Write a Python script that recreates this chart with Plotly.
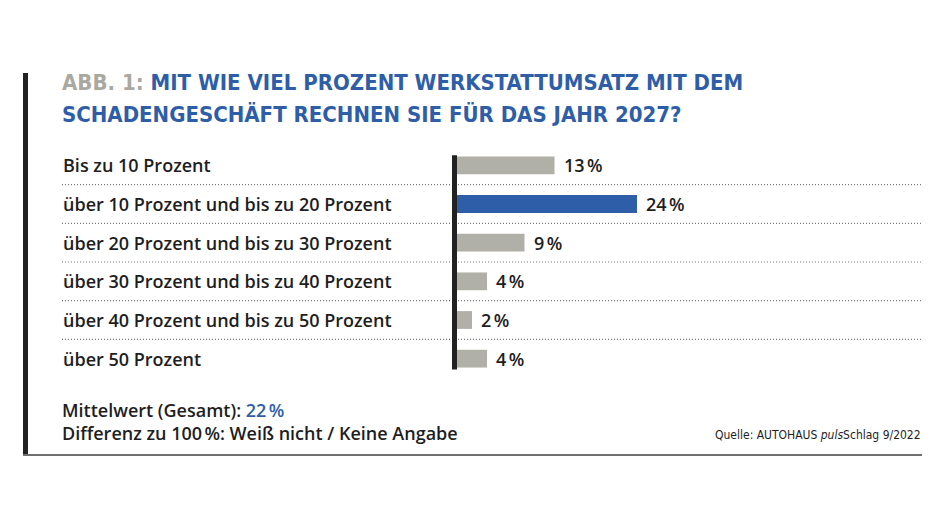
import plotly.graph_objects as go

categories = [
    "Bis zu 10 Prozent",
    "über 10 Prozent und bis zu 20 Prozent",
    "über 20 Prozent und bis zu 30 Prozent",
    "über 30 Prozent und bis zu 40 Prozent",
    "über 40 Prozent und bis zu 50 Prozent",
    "über 50 Prozent",
]
values = [13, 24, 9, 4, 2, 4]
highlight = [False, True, False, False, False, False]
mean_value = 22
title_prefix = "ABB. 1:"
title_line1 = "MIT WIE VIEL PROZENT WERKSTATTUMSATZ MIT DEM"
title_line2 = "SCHADENGESCHÄFT RECHNEN SIE FÜR DAS JAHR 2027?"
source = "Quelle: AUTOHAUS <i>puls</i>Schlag 9/2022"

W, H = 945, 532
OX, OY = 8, 8  # page body margin compensation
BLUE = "#2f5ea9"
GRAY = "#b1b0a8"
DARK = "#1e1e1e"

def px(x):
    return (x - OX) / W

def py(y):
    return 1 - (y - OY) / H

LABEL_FONT = dict(family="Open Sans", size=18, color=DARK, weight=600)
COND = "DejaVu Sans Condensed, Roboto, sans-serif"

idx = list(range(len(categories)))
colors = [BLUE if h else GRAY for h in highlight]
texts = [f"{v}\u202f%" for v in values]

fig = go.Figure(go.Bar(
    x=values, y=idx, orientation="h",
    marker=dict(color=colors, line=dict(width=0)),
    width=0.46,
    hoverinfo="skip",
))

ytop, ybot = 146, 378
fig.update_layout(
    width=W, height=H,
    margin=dict(l=0, r=0, t=0, b=0),
    paper_bgcolor="white", plot_bgcolor="white",
    showlegend=False,
    xaxis=dict(domain=[px(457), px(923)], range=[0, (923 - 457) / 7.5],
               visible=False, fixedrange=True),
    yaxis=dict(domain=[py(ybot), py(ytop)], range=[5.5, -0.5],
               visible=False, fixedrange=True),
)

shapes = []
for i in range(len(categories) - 1):
    shapes.append(dict(type="line", xref="paper", yref="y",
                       x0=px(62), x1=px(923), y0=i + 0.5, y1=i + 0.5,
                       line=dict(color="#7a7a7a", width=1.2, dash="1px,2px"), layer="below"))
shapes.append(dict(type="line", xref="paper", yref="y",
                   x0=px(454.5), x1=px(454.5), y0=-0.26, y1=5.28,
                   line=dict(color="#222222", width=5)))
shapes.append(dict(type="line", xref="paper", yref="paper",
                   x0=px(25.5), x1=px(25.5), y0=py(73), y1=py(456),
                   line=dict(color="#222222", width=5)))
shapes.append(dict(type="line", xref="paper", yref="paper",
                   x0=px(23), x1=px(922), y0=py(455), y1=py(455),
                   line=dict(color="#6f6f6f", width=2)))
fig.update_layout(shapes=shapes)

ann = []
for i, (v, t) in enumerate(zip(values, texts)):
    ann.append(dict(x=v, xref="x", y=i, yref="y", text=t, xshift=7,
                    xanchor="left", yanchor="middle", showarrow=False,
                    font=dict(family="Open Sans", size=18, color=DARK, weight=600)))
for i, c in enumerate(categories):
    ann.append(dict(x=px(61), xref="paper", y=i, yref="y", text=c,
                    xanchor="left", yanchor="middle", showarrow=False,
                    font=LABEL_FONT))
ann.append(dict(x=px(60), xref="paper", y=py(83), yref="paper",
                text=f"<span style='color:#a9a9a1'>{title_prefix}</span> {title_line1}",
                xanchor="left", yanchor="middle", showarrow=False,
                font=dict(family=COND, size=22, color=BLUE, weight=700)))
ann.append(dict(x=px(60), xref="paper", y=py(114), yref="paper",
                text=title_line2,
                xanchor="left", yanchor="middle", showarrow=False,
                font=dict(family=COND, size=22, color=BLUE, weight=700)))
ann.append(dict(x=px(60), xref="paper", y=py(410), yref="paper",
                text=f"Mittelwert (Gesamt): <span style='color:{BLUE}'>{mean_value}\u202f%</span>",
                xanchor="left", yanchor="middle", showarrow=False, font=LABEL_FONT))
ann.append(dict(x=px(60), xref="paper", y=py(433), yref="paper",
                text="Differenz zu 100\u202f%: Weiß nicht / Keine Angabe",
                xanchor="left", yanchor="middle", showarrow=False, font=LABEL_FONT))
ann.append(dict(x=px(923), xref="paper", y=py(435), yref="paper",
                text=source, xanchor="right", yanchor="middle", showarrow=False,
                font=dict(family=COND, size=12, color=DARK)))
fig.update_layout(annotations=ann)

fig.write_html("out.html", config=dict(displayModeBar=False))
